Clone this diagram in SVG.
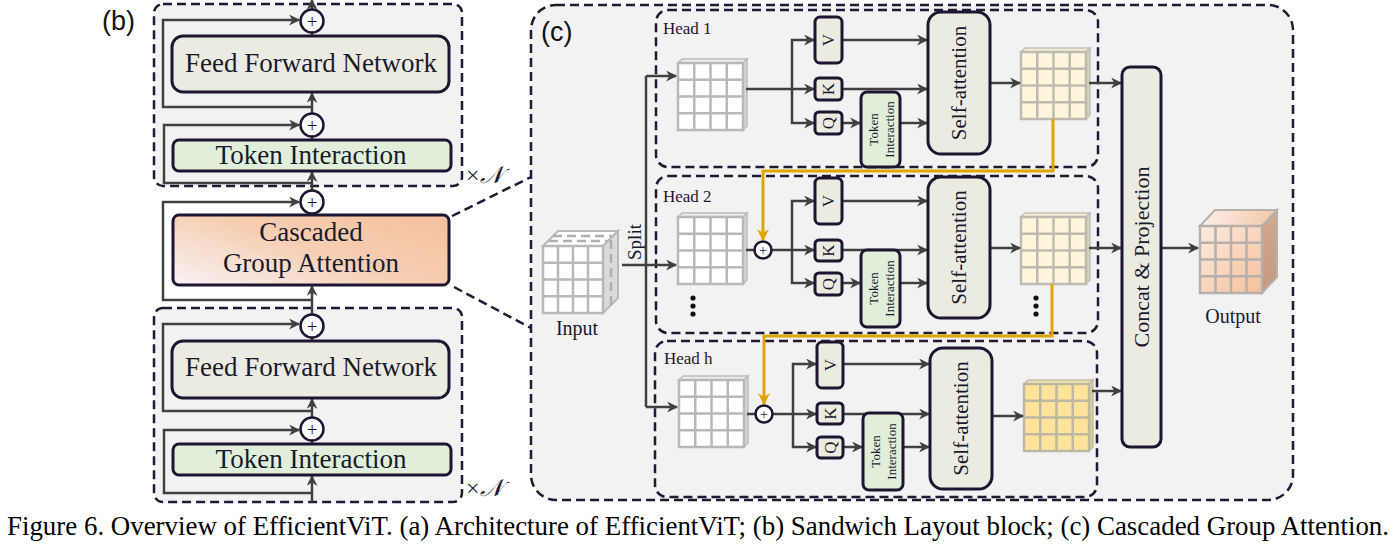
<svg xmlns="http://www.w3.org/2000/svg" width="1395" height="546" viewBox="0 0 1395 546">
<style>
.dash{fill:#f2f2f2;stroke:#221a35;stroke-width:2.5;stroke-dasharray:9 5}
.dashn{fill:none;stroke:#221a35;stroke-width:2.5;stroke-dasharray:9 5}
.box{stroke:#1e1530;stroke-width:3}
.beige{fill:#ecebe1}
.green{fill:#e1eed9}
.ln{fill:none;stroke:#404040;stroke-width:2.5}
.ar{fill:none;stroke:#404040;stroke-width:2.5;marker-end:url(#ah)}
.yl{fill:none;stroke:#dea600;stroke-width:3;marker-end:url(#ay)}
.circ{fill:#fff;stroke:#1e1530;stroke-width:2.5}
.t{font-family:"Liberation Serif","DejaVu Serif",serif;fill:#1a1a2e}
.s{font-family:"Liberation Sans",Arial,sans-serif;fill:#111}
.gl{stroke:#b8b8b8;stroke-width:2.5;fill:none}
</style>
<defs>
<marker id="ah" viewBox="0 0 10 10" refX="9" refY="5" markerWidth="12" markerHeight="11" markerUnits="userSpaceOnUse" orient="auto"><path d="M0,0 L10,5 L0,10 L3,5 z" fill="#404040"/></marker>
<marker id="ay" viewBox="0 0 10 10" refX="9" refY="5" markerWidth="12" markerHeight="12" markerUnits="userSpaceOnUse" orient="auto"><path d="M0,0 L10,5 L0,10 L3,5 z" fill="#dea600"/></marker>
<linearGradient id="cga" x1="0" y1="1" x2="1" y2="0.2"><stop offset="0" stop-color="#f8f2f5"/><stop offset="0.55" stop-color="#f6cfb3"/><stop offset="1" stop-color="#f4c2a0"/></linearGradient>
<linearGradient id="outf" x1="0" y1="0" x2="1" y2="1"><stop offset="0" stop-color="#fbece4"/><stop offset="1" stop-color="#f5bf98"/></linearGradient>
<linearGradient id="outt" x1="0" y1="0" x2="1" y2="0"><stop offset="0" stop-color="#fbf0ea"/><stop offset="1" stop-color="#f3c6a6"/></linearGradient>
<linearGradient id="outs" x1="0" y1="0" x2="0" y2="1"><stop offset="0" stop-color="#d2a88e"/><stop offset="1" stop-color="#c39a80"/></linearGradient>
<g id="inner">
<path class="gl" d="M16.25,0V67M32.5,0V67M48.75,0V67M0,16.75H65M0,33.5H65M0,50.25H65"/>
</g>
<g id="gg">
<polygon points="0,0 4,-4 69,-4 65,0" fill="#ececec" stroke="#bcbcbc" stroke-width="1.5"/>
<polygon points="65,0 69,-4 69,63 65,67" fill="#d4d4d4" stroke="#bcbcbc" stroke-width="1.5"/>
<rect x="0" y="0" width="65" height="67" fill="#fff" stroke="#b8b8b8" stroke-width="2.5"/>
<use href="#inner"/>
</g>
<g id="cg">
<polygon points="0,0 4,-4 69,-4 65,0" fill="#f3ecdb" stroke="#c2c0b8" stroke-width="1.5"/>
<polygon points="65,0 69,-4 69,63 65,67" fill="#d8d0b8" stroke="#c2c0b8" stroke-width="1.5"/>
<rect x="0" y="0" width="65" height="67" fill="#fff4dc" stroke="#bcbab2" stroke-width="2.5"/>
<path d="M16.25,0V67M32.5,0V67M48.75,0V67M0,16.75H65M0,33.5H65M0,50.25H65" stroke="#bcbab2" stroke-width="2.5" fill="none"/>
</g>
<g id="yg">
<polygon points="0,0 4,-4 69,-4 65,0" fill="#f2e2b0" stroke="#c2bea8" stroke-width="1.5"/>
<polygon points="65,0 69,-4 69,63 65,67" fill="#dccb92" stroke="#c2bea8" stroke-width="1.5"/>
<rect x="0" y="0" width="65" height="67" fill="#ffe39b" stroke="#bdb8a2" stroke-width="2.5"/>
<path d="M16.25,0V67M32.5,0V67M48.75,0V67M0,16.75H65M0,33.5H65M0,50.25H65" stroke="#bdb8a2" stroke-width="2.5" fill="none"/>
</g>
</defs>

<rect width="1395" height="546" fill="#fff"/>

<!-- (b) panel -->
<text class="s" x="102" y="30" font-size="27">(b)</text>
<g id="blockTop">
<rect class="dash" x="154" y="4" width="308" height="182" rx="9"/>
</g>
<g id="blockBottom">
<rect class="dash" x="154" y="308" width="308" height="194" rx="9"/>
</g>

<g id="b-connectors">
<path class="ar" d="M312,10V0"/>
<path class="ar" d="M312,113V93"/>
<path class="ar" d="M312,190V172"/>
<path class="ar" d="M312,314V286"/>
<path class="ar" d="M312,417V399"/>
<path class="ar" d="M312,502V476"/>
<path class="ln" d="M312,36V33M312,140V137M312,215V213M312,341V338M312,444V441"/>
<path class="ar" d="M312,107H163V20H299"/>
<path class="ar" d="M312,183H164V125H299"/>
<path class="ar" d="M312,300H163V202H299"/>
<path class="ar" d="M312,411H163V324H299"/>
<path class="ar" d="M312,493H164V430H299"/>
<path class="dashn" d="M452,216L531,177M454,287L531,328"/>
</g>

<g id="plus1"><circle class="circ" cx="312" cy="21" r="11.5"/><text class="t" x="312" y="27.5" font-size="19" text-anchor="middle">+</text></g>
<g id="ffn1"><rect class="box beige" x="172" y="36" width="277" height="56" rx="11"/><text class="t" x="311" y="72" font-size="27" text-anchor="middle">Feed Forward Network</text></g>
<g id="plus2"><circle class="circ" cx="312" cy="125" r="11.5"/><text class="t" x="312" y="131.5" font-size="19" text-anchor="middle">+</text></g>
<g id="ti1"><rect class="box green" x="173" y="140" width="278" height="31" rx="6"/><text class="t" x="311" y="164" font-size="27" text-anchor="middle">Token Interaction</text></g>
<text class="t" x="466" y="183" font-size="24">×<tspan font-family="DejaVu Serif, DejaVu Sans, serif" font-style="italic">𝒩</tspan></text>
<g id="plus3"><circle class="circ" cx="312" cy="202" r="11.5"/><text class="t" x="312" y="208.5" font-size="19" text-anchor="middle">+</text></g>
<g id="cgaBox"><rect class="box" fill="url(#cga)" x="173" y="215" width="276" height="70" rx="6"/><text class="t" x="311" y="241" font-size="27" text-anchor="middle">Cascaded</text><text class="t" x="311" y="272" font-size="27" text-anchor="middle">Group Attention</text></g>
<g id="plus4"><circle class="circ" cx="312" cy="326" r="11.5"/><text class="t" x="312" y="332.5" font-size="19" text-anchor="middle">+</text></g>
<g id="ffn2"><rect class="box beige" x="172" y="341" width="277" height="57" rx="11"/><text class="t" x="311" y="376" font-size="27" text-anchor="middle">Feed Forward Network</text></g>
<g id="plus5"><circle class="circ" cx="312" cy="429" r="11.5"/><text class="t" x="312" y="435.5" font-size="19" text-anchor="middle">+</text></g>
<g id="ti2"><rect class="box green" x="173" y="444" width="278" height="31" rx="6"/><text class="t" x="311" y="468" font-size="27" text-anchor="middle">Token Interaction</text></g>
<text class="t" x="466" y="496" font-size="24">×<tspan font-family="DejaVu Serif, DejaVu Sans, serif" font-style="italic">𝒩</tspan></text>

<!-- (c) panel -->
<g id="panelC">
<rect class="dash" x="531" y="5" width="762" height="495" rx="25"/>
<text class="s" x="541" y="41" font-size="27">(c)</text>
</g>
<g id="head1"><rect class="dashn" x="656" y="10" width="442" height="157" rx="12"/><text class="t" x="663" y="34" font-size="17">Head 1</text></g>
<g id="head2"><rect class="dashn" x="656" y="176" width="442" height="157" rx="12"/><text class="t" x="663" y="202" font-size="17">Head 2</text></g>
<g id="headh"><rect class="dashn" x="655" y="341" width="442" height="156" rx="12"/><text class="t" x="664" y="364" font-size="17">Head h</text></g>

<g id="input">
<polygon points="543,246 558,231 618,231 603,246" fill="#fff" stroke="#b8b8b8" stroke-width="2"/>
<path d="M553,236H612M549,241H607" stroke="#b0b0b0" stroke-width="2.5" stroke-dasharray="9 5" fill="none"/>
<polygon points="603,246 618,231 618,298 603,313" fill="#dadada" stroke="#b8b8b8" stroke-width="2"/>
<path d="M611,240V306" stroke="#b0b0b0" stroke-width="2.5" stroke-dasharray="9 5" fill="none"/>
<rect x="543" y="246" width="60" height="67" fill="#fff" stroke="#b8b8b8" stroke-width="2.5"/>
<path class="gl" d="M558,246V313M573,246V313M588,246V313M543,262.75H603M543,279.5H603M543,296.25H603"/>
<text class="t" x="577" y="335" font-size="20" text-anchor="middle">Input</text>
</g>
<text class="t" transform="translate(641,242) rotate(-90)" font-size="19" text-anchor="middle">Split</text>

<g id="grids">
<use href="#gg" x="678" y="63"/>
<use href="#gg" x="678" y="217"/>
<use href="#gg" x="679" y="380"/>
<use href="#cg" x="1021" y="52"/>
<use href="#cg" x="1021" y="217"/>
<use href="#yg" x="1024" y="384"/>
</g>

<g id="connectors">
<path class="ln" d="M622,265H646M646,76V407"/>
<path class="ar" d="M646,265H676"/>
<path class="ar" d="M646,76H676"/>
<path class="ar" d="M646,407H677"/>
<!-- head1 -->
<path class="ar" d="M746,89H814"/>
<path class="ar" d="M792,89V40H814"/>
<path class="ar" d="M792,89V123H814"/>
<path class="ar" d="M842,40H927"/>
<path class="ar" d="M842,89H927"/>
<path class="ar" d="M842,123H860"/>
<path class="ar" d="M900,123H927"/>
<path class="ar" d="M990,83H1020"/>
<path class="ar" d="M1089,83H1121"/>
<!-- head2 -->
<path class="ln" d="M746,250H754"/>
<path class="ar" d="M772,250H814"/>
<path class="ar" d="M792,250V201H814"/>
<path class="ar" d="M792,250V283H814"/>
<path class="ar" d="M842,201H927"/>
<path class="ar" d="M842,250H927"/>
<path class="ar" d="M842,283H860"/>
<path class="ar" d="M900,283H927"/>
<path class="ar" d="M990,248H1020"/>
<path class="ar" d="M1089,248H1121"/>
<!-- head h -->
<path class="ln" d="M747,414H755"/>
<path class="ar" d="M773,414H816"/>
<path class="ar" d="M793,414V364H816"/>
<path class="ar" d="M793,414V447H816"/>
<path class="ar" d="M843,364H929"/>
<path class="ar" d="M843,414H929"/>
<path class="ar" d="M843,447H862"/>
<path class="ar" d="M903,447H929"/>
<path class="ar" d="M992,416H1023"/>
<path class="ar" d="M1092,391H1121"/>
<path class="ar" d="M1161,248H1198"/>
<!-- cascade -->
<path class="yl" d="M1053,119V171H763V240"/>
<path class="yl" d="M1052,284V336H764V404"/>
</g>

<g id="h2plus"><circle class="circ" cx="763" cy="250" r="8.5"/><text class="t" x="763" y="255" font-size="14" text-anchor="middle">+</text></g>
<g id="hhplus"><circle class="circ" cx="764" cy="414" r="8.5"/><text class="t" x="764" y="419" font-size="14" text-anchor="middle">+</text></g>

<g id="h1V"><rect class="box beige" x="815" y="17" width="27" height="46" rx="5"/><text class="t" transform="translate(828.5,40) rotate(-90)" font-size="17" text-anchor="middle" dominant-baseline="central">V</text></g>
<g id="h1K"><rect class="box beige" x="815" y="78" width="27" height="22" rx="4"/><text class="t" transform="translate(828.5,89) rotate(-90)" font-size="17" text-anchor="middle" dominant-baseline="central">K</text></g>
<g id="h1Q"><rect class="box beige" x="815" y="112" width="27" height="22" rx="4"/><text class="t" transform="translate(828.5,123) rotate(-90)" font-size="17" text-anchor="middle" dominant-baseline="central">Q</text></g>
<g id="h1TI"><rect class="box green" x="861" y="92" width="39" height="75" rx="6"/><text class="t" transform="translate(880.5,129.5) rotate(-90)" font-size="13" text-anchor="middle"><tspan x="0" y="-3">Token</tspan><tspan x="0" y="13">Interaction</tspan></text></g>
<g id="h1SA"><rect class="box beige" x="928" y="12" width="62" height="142" rx="13"/><text class="t" transform="translate(959,83) rotate(-90)" font-size="21" text-anchor="middle" dominant-baseline="central">Self-attention</text></g>

<g id="h2V"><rect class="box beige" x="815" y="178" width="27" height="46" rx="5"/><text class="t" transform="translate(828.5,201) rotate(-90)" font-size="17" text-anchor="middle" dominant-baseline="central">V</text></g>
<g id="h2K"><rect class="box beige" x="815" y="240" width="27" height="21" rx="4"/><text class="t" transform="translate(828.5,250.5) rotate(-90)" font-size="17" text-anchor="middle" dominant-baseline="central">K</text></g>
<g id="h2Q"><rect class="box beige" x="815" y="273" width="27" height="22" rx="4"/><text class="t" transform="translate(828.5,284) rotate(-90)" font-size="17" text-anchor="middle" dominant-baseline="central">Q</text></g>
<g id="h2TI"><rect class="box green" x="861" y="250" width="39" height="77" rx="6"/><text class="t" transform="translate(880.5,288.5) rotate(-90)" font-size="13" text-anchor="middle"><tspan x="0" y="-3">Token</tspan><tspan x="0" y="13">Interaction</tspan></text></g>
<g id="h2SA"><rect class="box beige" x="928" y="177" width="62" height="141" rx="13"/><text class="t" transform="translate(959,247.5) rotate(-90)" font-size="21" text-anchor="middle" dominant-baseline="central">Self-attention</text></g>

<g id="hhV"><rect class="box beige" x="817" y="342" width="26" height="46" rx="5"/><text class="t" transform="translate(830,365) rotate(-90)" font-size="17" text-anchor="middle" dominant-baseline="central">V</text></g>
<g id="hhK"><rect class="box beige" x="817" y="403" width="26" height="21" rx="4"/><text class="t" transform="translate(830,413.5) rotate(-90)" font-size="17" text-anchor="middle" dominant-baseline="central">K</text></g>
<g id="hhQ"><rect class="box beige" x="817" y="437" width="26" height="21" rx="4"/><text class="t" transform="translate(830,447.5) rotate(-90)" font-size="17" text-anchor="middle" dominant-baseline="central">Q</text></g>
<g id="hhTI"><rect class="box green" x="863" y="413" width="40" height="77" rx="6"/><text class="t" transform="translate(883,451.5) rotate(-90)" font-size="13" text-anchor="middle"><tspan x="0" y="-3">Token</tspan><tspan x="0" y="13">Interaction</tspan></text></g>
<g id="hhSA"><rect class="box beige" x="930" y="348" width="62" height="141" rx="13"/><text class="t" transform="translate(961,418.5) rotate(-90)" font-size="21" text-anchor="middle" dominant-baseline="central">Self-attention</text></g>

<g id="dots" fill="#111">
<circle cx="693" cy="298" r="2.6"/><circle cx="693" cy="306" r="2.6"/><circle cx="693" cy="314" r="2.6"/>
<circle cx="1036" cy="298" r="2.6"/><circle cx="1036" cy="306" r="2.6"/><circle cx="1036" cy="314" r="2.6"/>
</g>

<g id="concat"><rect class="box beige" x="1122" y="67" width="39" height="380" rx="8"/><text class="t" transform="translate(1141,257) rotate(-90)" font-size="22" text-anchor="middle" dominant-baseline="central">Concat &amp; Projection</text></g>

<g id="output">
<polygon points="1200,226 1215,210 1277,210 1262,226" fill="url(#outt)" stroke="#b8b0aa" stroke-width="2"/>
<polygon points="1262,226 1277,210 1277,277 1262,293" fill="url(#outs)" stroke="#b8b0aa" stroke-width="2"/>
<rect x="1200" y="226" width="62" height="67" fill="url(#outf)" stroke="#b5b0ac" stroke-width="2.5"/>
<path d="M1215.5,226V293M1231,226V293M1246.5,226V293M1200,242.75H1262M1200,259.5H1262M1200,276.25H1262" stroke="#b5b0ac" stroke-width="2.5" fill="none"/>
<text class="t" x="1233" y="323" font-size="20" text-anchor="middle">Output</text>
</g>

<text x="7" y="535" font-family="Liberation Serif, Times New Roman, serif" font-size="26.5" fill="#000" textLength="1382" lengthAdjust="spacingAndGlyphs">Figure 6. Overview of EfficientViT. (a) Architecture of EfficientViT; (b) Sandwich Layout block; (c) Cascaded Group Attention.</text>
</svg>
